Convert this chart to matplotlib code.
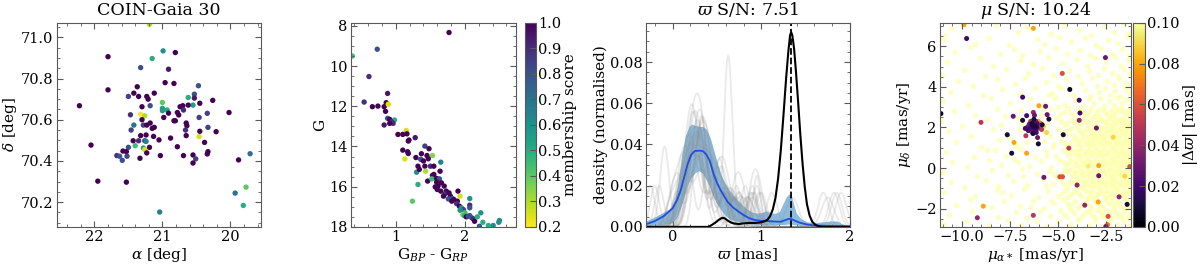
import numpy as np
import matplotlib
matplotlib.use("Agg")
import matplotlib.pyplot as plt
from matplotlib.ticker import MultipleLocator

# ---- panel 1: sky positions of members ----
ra_deg = [21.19, 21.80, 20.99, 20.81, 21.15, 21.32, 20.91, 21.80, 20.96, 20.83,
          20.47, 21.37, 21.42, 21.50, 21.35, 21.23, 21.21, 21.12, 20.53, 20.53,
          20.62, 20.26, 22.22, 21.00, 21.18, 21.30, 21.00, 20.93, 21.00, 20.55,
          20.62, 20.70, 20.74, 20.45, 20.69, 20.91, 20.78, 20.76, 20.34, 20.02,
          21.47, 21.32, 21.26, 21.30, 20.98, 20.46, 21.42, 21.28, 21.23, 21.18,
          21.15, 21.12, 20.81, 20.83, 20.65, 20.64, 20.33, 21.46, 20.66, 20.45,
          20.21, 21.32, 21.24, 21.13, 20.88, 20.65, 20.46, 21.43, 21.35, 21.05,
          21.26, 21.24, 20.38, 22.05, 21.50, 21.40, 21.28, 21.26, 21.19, 20.78,
          21.58, 21.53, 21.23, 20.33, 20.34, 21.67, 21.63, 21.52, 21.03, 20.69,
          20.55, 21.33, 21.59, 20.51, 20.55, 19.88, 19.71, 21.95, 21.53, 19.93,
          19.77, 19.81, 21.04]
dec_deg = [71.063, 70.906, 70.934, 70.926, 70.897, 70.853, 70.845, 70.745, 70.780, 70.776,
           70.765, 70.760, 70.729, 70.713, 70.713, 70.713, 70.700, 70.729, 70.724, 70.705,
           70.708, 70.694, 70.668, 70.684, 70.668, 70.663, 70.655, 70.647, 70.644, 70.671,
           70.671, 70.668, 70.663, 70.680, 70.647, 70.632, 70.635, 70.623, 70.631, 70.635,
           70.624, 70.627, 70.619, 70.600, 70.611, 70.611, 70.574, 70.574, 70.574, 70.584,
           70.558, 70.563, 70.595, 70.595, 70.584, 70.571, 70.563, 70.550, 70.550, 70.544,
           70.542, 70.523, 70.526, 70.519, 70.511, 70.523, 70.518, 70.498, 70.498, 70.502,
           70.498, 70.495, 70.490, 70.477, 70.466, 70.474, 70.463, 70.455, 70.466, 70.469,
           70.448, 70.445, 70.439, 70.445, 70.434, 70.426, 70.423, 70.423, 70.426, 70.426,
           70.429, 70.413, 70.403, 70.410, 70.390, 70.405, 70.435, 70.302, 70.297, 70.244,
           70.273, 70.184, 70.152]
score_sky = [0.30, 1.00, 0.60, 1.00, 0.50, 0.80, 0.95, 1.00, 1.00, 1.00,
             0.80, 1.00, 1.00, 0.85, 1.00, 1.00, 1.00, 1.00, 0.80, 0.95,
             0.50, 1.00, 1.00, 0.40, 0.80, 1.00, 0.55, 0.50, 0.55, 0.55,
             1.00, 1.00, 1.00, 1.00, 0.90, 1.00, 1.00, 1.00, 0.85, 1.00,
             0.90, 0.20, 0.30, 1.00, 1.00, 0.85, 0.70, 0.85, 1.00, 1.00,
             1.00, 1.00, 1.00, 1.00, 1.00, 1.00, 0.85, 0.85, 0.90, 1.00,
             1.00, 1.00, 1.00, 1.00, 1.00, 1.00, 0.25, 1.00, 0.90, 1.00,
             0.80, 0.65, 1.00, 1.00, 0.80, 0.45, 0.55, 0.25, 1.00, 1.00,
             1.00, 1.00, 1.00, 1.00, 1.00, 0.90, 0.80, 0.85, 1.00, 1.00,
             1.00, 1.00, 0.80, 0.85, 1.00, 1.00, 0.70, 1.00, 1.00, 0.70,
             0.40, 0.50, 0.65]

# ---- panel 2: colour-magnitude diagram ----
bp_rp = [1.77, 0.73, 0.37, 0.61, 0.88, 0.54, 0.66, 0.74, 0.83, 0.86,
         0.89, 0.85, 0.88, 0.91, 0.98, 0.94, 0.96, 0.91, 0.83, 1.15,
         1.03, 1.10, 1.16, 1.28, 1.19, 1.18, 1.10, 1.13, 1.18, 1.17,
         1.42, 1.48, 1.37, 1.45, 1.53, 1.47, 1.36, 1.32, 1.29, 1.40,
         1.42, 1.50, 1.55, 1.65, 1.64, 1.43, 1.30, 1.34, 1.55, 1.53,
         1.46, 1.52, 1.59, 1.63, 1.59, 1.66, 1.32, 1.61, 1.57, 1.70,
         1.60, 1.65, 1.73, 1.71, 1.77, 1.79, 1.69, 1.82, 1.90, 1.93,
         1.76, 1.84, 1.81, 1.89, 1.88, 1.24, 2.07, 2.07, 1.92, 1.95,
         1.98, 1.93, 2.00, 1.97, 1.99, 2.02, 2.05, 2.07, 2.10, 2.12,
         2.14, 2.18, 2.23, 2.26, 2.34, 2.21, 2.41, 2.49, 2.50, 2.07]
g_mag = [8.33, 9.16, 9.50, 10.52, 11.36, 11.79, 12.02, 11.99, 12.02, 11.82,
         11.90, 12.25, 12.60, 12.65, 12.68, 12.77, 12.85, 12.85, 12.93, 13.20,
         13.40, 13.40, 13.37, 13.56, 13.68, 13.73, 14.18, 14.62, 14.35, 14.26,
         13.98, 14.11, 14.36, 14.45, 14.45, 14.61, 14.64, 14.98, 14.55, 14.72,
         14.98, 14.98, 14.98, 14.78, 15.23, 15.23, 15.28, 15.14, 15.39, 15.44,
         15.72, 15.61, 15.59, 15.61, 15.77, 15.81, 15.89, 15.97, 16.01, 15.97,
         16.14, 16.22, 16.22, 16.36, 16.31, 16.47, 16.47, 16.59, 16.22, 16.47,
         16.61, 16.64, 16.72, 16.72, 16.84, 16.72, 16.59, 16.92, 16.97, 17.05,
         17.14, 17.17, 17.30, 17.39, 17.44, 17.50, 17.47, 17.44, 17.55, 17.60,
         17.72, 17.50, 17.30, 17.77, 17.93, 17.97, 17.93, 17.77, 17.68, 17.05]
score_cmd = [1.00, 0.80, 0.45, 0.90, 0.95, 0.90, 1.00, 1.00, 1.00, 1.00,
             0.25, 1.00, 0.80, 1.00, 0.50, 0.90, 0.90, 1.00, 0.95, 0.25,
             1.00, 1.00, 1.00, 0.95, 1.00, 1.00, 1.00, 0.25, 1.00, 1.00,
             0.85, 1.00, 1.00, 1.00, 0.35, 1.00, 0.80, 1.00, 1.00, 1.00,
             1.00, 0.90, 1.00, 0.65, 1.00, 0.30, 0.60, 1.00, 1.00, 1.00,
             1.00, 0.45, 1.00, 0.80, 1.00, 1.00, 0.50, 1.00, 1.00, 1.00,
             1.00, 1.00, 1.00, 0.90, 1.00, 1.00, 1.00, 0.80, 1.00, 0.25,
             0.80, 1.00, 1.00, 1.00, 0.90, 0.40, 0.60, 0.90, 1.00, 0.60,
             0.80, 0.60, 0.45, 0.35, 0.50, 1.00, 0.80, 0.80, 0.80, 0.90,
             1.00, 0.50, 0.60, 0.50, 0.50, 0.80, 0.60, 0.60, 0.60, 0.80]

# ---- panel 3: parallax densities ----
cluster_plx = [-0.30, 0.40, 0.43, 0.48, 0.52, 0.55, 0.57, 0.59, 0.62, 0.66,
               0.70, 0.75, 0.80, 0.86, 0.92, 0.98, 1.03, 1.07, 1.10, 1.13,
               1.16, 1.19, 1.22, 1.25, 1.28, 1.305, 1.325, 1.337, 1.35, 1.37,
               1.39, 1.415, 1.44, 1.465, 1.49, 1.515, 1.545, 1.575, 1.61, 1.65,
               1.70, 2.00]
cluster_dens = [0.0, 0.0, 0.0006, 0.0020, 0.0034, 0.0042, 0.0044, 0.0041, 0.0031, 0.0021,
                0.0016, 0.0014, 0.0017, 0.0019, 0.0019, 0.0021, 0.0026, 0.0035, 0.0052, 0.0085,
                0.0140, 0.0235, 0.0370, 0.0540, 0.0720, 0.0850, 0.0930, 0.0945, 0.0930, 0.0865,
                0.0760, 0.0610, 0.0450, 0.0310, 0.0195, 0.0110, 0.0055, 0.0025, 0.0010, 0.0003,
                0.0, 0.0]
cluster_plx_peak = 1.337

mean_plx = [-0.30, -0.20, -0.10, 0.00, 0.05, 0.09, 0.13, 0.17, 0.21, 0.25,
            0.30, 0.34, 0.38, 0.42, 0.46, 0.50, 0.54, 0.58, 0.62, 0.68,
            0.74, 0.80, 0.86, 0.92, 1.00, 1.08, 1.15, 1.22, 1.27, 1.31,
            1.34, 1.38, 1.43, 1.50, 1.60, 1.75, 1.90, 2.00]
mean_dens = [0.0013, 0.0028, 0.0052, 0.0090, 0.0130, 0.0175, 0.0240, 0.0305, 0.0350, 0.0368,
             0.0370, 0.0368, 0.0352, 0.0320, 0.0260, 0.0215, 0.0180, 0.0150, 0.0122, 0.0095,
             0.0075, 0.0058, 0.0043, 0.0034, 0.0029, 0.0028, 0.0026, 0.0025, 0.0033, 0.0039,
             0.0038, 0.0030, 0.0021, 0.0013, 0.0007, 0.0005, 0.0004, 0.0003]
upper_plx = [-0.30, -0.20, -0.10, -0.02, 0.03, 0.07, 0.11, 0.15, 0.19, 0.22,
             0.26, 0.30, 0.35, 0.39, 0.43, 0.47, 0.51, 0.55, 0.60, 0.66,
             0.72, 0.78, 0.84, 0.90, 0.96, 1.02, 1.06, 1.10, 1.16, 1.21,
             1.25, 1.29, 1.32, 1.345, 1.37, 1.40, 1.45, 1.52, 1.60, 1.70,
             1.80, 1.86, 1.92, 2.00]
upper_dens = [0.0026, 0.0045, 0.0068, 0.0088, 0.0130, 0.0220, 0.0350, 0.0440, 0.0485, 0.0497,
              0.0490, 0.0485, 0.0485, 0.0470, 0.0430, 0.0370, 0.0310, 0.0250, 0.0205, 0.0168,
              0.0135, 0.0110, 0.0085, 0.0070, 0.0064, 0.0068, 0.0076, 0.0068, 0.0063, 0.0072,
              0.0110, 0.0145, 0.0158, 0.0148, 0.0110, 0.0065, 0.0038, 0.0022, 0.0018, 0.0022,
              0.0027, 0.0026, 0.0012, 0.0005]
lower_plx = [-0.30, -0.10, 0.00, 0.05, 0.09, 0.13, 0.17, 0.21, 0.26, 0.30,
             0.34, 0.38, 0.42, 0.46, 0.50, 0.55, 0.60, 0.65, 0.72, 0.80,
             0.90, 1.00, 1.20, 1.33, 1.45, 1.60, 2.00]
lower_dens = [0.0004, 0.0009, 0.0017, 0.0040, 0.0085, 0.0135, 0.0195, 0.0235, 0.0260, 0.0270,
              0.0260, 0.0230, 0.0195, 0.0150, 0.0115, 0.0080, 0.0053, 0.0036, 0.0025, 0.0017,
              0.0011, 0.0009, 0.0008, 0.0012, 0.0004, 0.0, 0.0]

# parallaxes of random field samples (one grey curve each) and their kernel widths
field_samples = [
    [0.15, 0.19, 0.22, 0.24, 0.28, 0.45, 0.60, 0.90],
    [-0.10, -0.08, 0.20, 0.30, 0.33, 0.36, 0.50, 0.95],
    [0.05, 0.25, 0.30, 0.34, 0.38, 0.41, 0.70, 1.75],
    [0.10, 0.17, 0.20, 0.27, 0.35, 0.52, 0.58, 0.75],
    [0.60, 0.62, 0.63, 0.67, 0.25, 0.32, 0.45, 0.95],
    [0.00, 0.12, 0.18, 0.25, 0.29, 0.33, 0.42, 0.80],
    [0.20, 0.23, 0.26, 0.31, 0.37, 0.48, 0.55, 1.82],
    [-0.20, 0.08, 0.14, 0.20, 0.38, 0.44, 0.60, 0.90],
    [0.12, 0.28, 0.31, 0.35, 0.39, 0.46, 0.55, 0.68],
    [0.16, 0.20, 0.24, 0.27, 0.34, 0.70, 0.78, 1.70],
    [0.02, 0.08, 0.26, 0.30, 0.40, 0.43, 0.65, 0.85],
    [0.18, 0.22, 0.25, 0.30, 0.32, 0.36, 0.58, 0.98],
    [0.10, 0.15, 0.30, 0.35, 0.50, 0.55, 0.85, 0.62],
    [-0.25, 0.19, 0.23, 0.29, 0.33, 0.40, 0.47, 0.72],
    [0.05, 0.21, 0.25, 0.28, 0.44, 0.62, 0.88, 1.85],
    [0.13, 0.17, 0.27, 0.33, 0.37, 0.40, 0.52, 0.72],
    [0.22, 0.26, 0.30, 0.34, 0.45, 0.90, 0.97, 0.55],
    [0.00, 0.10, 0.14, 0.24, 0.30, 0.38, 0.66, 1.00],
    [0.17, 0.24, 0.28, 0.36, 0.42, 0.49, 0.60, 0.78],
    [0.09, 0.20, 0.26, 0.31, 0.35, 0.47, 0.75, 1.12],
    [-0.15, 0.15, 0.22, 0.29, 0.32, 0.50, 0.56, 0.82],
    [0.11, 0.19, 0.24, 0.34, 0.39, 0.43, 0.58, 1.35],
    [0.20, 0.27, 0.30, 0.33, 0.38, 0.55, 0.68, 0.92],
    [0.06, 0.16, 0.21, 0.26, 0.41, 0.60, 0.90, 1.90],
]
field_bw = [0.07, 0.05, 0.07, 0.06, 0.04, 0.07, 0.06, 0.05, 0.07, 0.06, 0.07, 0.06,
            0.07, 0.05, 0.06, 0.07, 0.06, 0.06, 0.07, 0.06, 0.05, 0.07, 0.06, 0.06]

# ---- panel 4: proper motions ----
# stars with |delta plx| < 0.1 mas
pm_ra = [-9.90, -9.76, -6.28, -2.52, -4.77, -4.38, -11.10, -9.01, -7.33, -6.84,
         -6.63, -6.84, -6.28, -5.99, -5.64, -5.56, -5.47, -5.82, -3.89, -3.85,
         -3.89, -2.99, -7.64, -7.29, -7.41, -6.67, -6.63, -6.06, -6.02, -5.59,
         -4.72, -4.43, -2.12, -2.87, -3.42, -2.87, -1.25, -1.51, -5.73, -4.90,
         -4.76, -4.00, -3.60, -2.90, -1.81, -1.39, -8.89, -9.20, -6.28, -2.38,
         -2.41, -2.50,
         -6.25, -6.18, -6.30, -6.12, -6.35, -6.05, -6.22, -6.40, -6.10, -6.28,
         -6.15, -6.45, -6.00, -6.20, -6.33, -6.08, -5.95, -6.50, -6.25, -6.55,
         -5.90, -6.38, -6.17, -6.26, -6.02, -6.60, -6.13, -5.85, -6.42, -6.70,
         -6.22, -5.75, -6.30]
pm_dec = [7.06, 6.38, 6.88, 5.44, 4.66, 3.87, 2.68, 2.25, 2.55, 3.49,
          2.58, 2.35, 2.74, 3.07, 3.04, 2.63, 2.41, 2.13, 3.34, 2.71,
          2.35, 1.97, 1.64, 1.26, 0.73, 1.59, 0.73, 1.50, 1.19, 1.75,
          1.64, 0.98, 1.52, 0.12, 0.10, -0.38, 0.07, -0.40, -0.46, -0.43,
          -0.43, -0.84, -1.83, -1.67, -1.42, -1.79, -1.88, -2.45, -2.33, -2.38,
          -2.79, -2.88,
          2.10, 2.05, 1.98, 2.15, 2.20, 1.95, 2.25, 2.05, 2.02, 1.90,
          2.30, 1.95, 2.10, 1.85, 2.12, 2.20, 2.00, 2.15, 2.40, 1.85,
          2.20, 1.80, 1.95, 2.03, 2.30, 2.00, 1.75, 1.90, 2.30, 1.95,
          2.60, 2.05, 1.70]
dplx = [0.080, 0.020, 0.080, 0.030, 0.060, 0.005, 0.005, 0.050, 0.030, 0.020,
        0.020, 0.010, 0.040, 0.080, 0.030, 0.030, 0.010, 0.010, 0.020, 0.020,
        0.040, 0.030, 0.010, 0.080, 0.010, 0.050, 0.080, 0.030, 0.010, 0.090,
        0.010, 0.050, 0.090, 0.080, 0.095, 0.030, 0.060, 0.090, 0.030, 0.060,
        0.060, 0.040, 0.040, 0.080, 0.040, 0.010, 0.080, 0.040, 0.050, 0.060,
        0.070, 0.030,
        0.020, 0.010, 0.030, 0.020, 0.010, 0.040, 0.030, 0.020, 0.015, 0.025,
        0.035, 0.020, 0.050, 0.020, 0.010, 0.030, 0.060, 0.030, 0.010, 0.020,
        0.070, 0.040, 0.020, 0.015, 0.080, 0.030, 0.020, 0.050, 0.045, 0.020,
        0.030, 0.090, 0.010]

# field stars (|delta plx| >= 0.1 mas), read row by row from top to bottom
field_stars = [
    (-10.55, 6.92), (-10.9, 6.55), (-8.25, 7.05), (-7.1, 6.72), (-6.6, 6.95), (-5.35, 6.62),
    (-4.7, 7.02), (-3.9, 6.78), (-3.25, 6.55), (-2.6, 6.98), (-2.05, 6.7), (-1.55, 7.08), (-1.35, 6.6),
    (-11.0, 6.3), (-9.3, 6.1), (-8.6, 6.4), (-7.55, 6.05), (-6.1, 6.35), (-5.7, 6.1), (-4.95, 6.45),
    (-4.3, 6.2), (-3.6, 6.4), (-3.0, 6.05), (-2.4, 6.3), (-1.85, 6.15), (-1.4, 6.45),
    (-10.35, 5.7), (-9.6, 5.95), (-8.0, 5.6), (-7.3, 5.85), (-6.85, 5.55), (-5.95, 5.75), (-5.1, 5.9),
    (-4.55, 5.6), (-3.85, 5.8), (-3.35, 5.55), (-2.75, 5.9), (-2.2, 5.6), (-1.65, 5.85), (-1.3, 5.55),
    (-10.8, 5.2), (-9.05, 5.4), (-8.4, 5.05), (-7.0, 5.3), (-6.3, 5.1), (-5.5, 5.45), (-4.8, 5.15),
    (-4.05, 5.35), (-3.5, 5.05), (-3.05, 5.4), (-2.5, 5.2), (-2.0, 5.45), (-1.7, 5.05), (-1.35, 5.3),
    (-11.05, 4.6), (-9.9, 4.85), (-8.8, 4.55), (-7.7, 4.9), (-6.55, 4.7), (-5.85, 4.95), (-5.25, 4.6),
    (-4.4, 4.85), (-3.95, 4.55), (-3.4, 4.8), (-2.9, 4.6), (-2.6, 4.95), (-2.2, 4.7), (-1.85, 4.55),
    (-1.55, 4.9), (-1.3, 4.65),
    (-10.2, 4.3), (-9.45, 4.05), (-8.15, 4.4), (-7.25, 4.15), (-6.7, 4.45), (-5.6, 4.25), (-5.0, 4.05),
    (-4.6, 4.4), (-3.75, 4.2), (-3.2, 4.45), (-2.95, 4.05), (-2.45, 4.3), (-2.1, 4.1), (-1.8, 4.4),
    (-1.45, 4.2), (-1.25, 4.0),
    (-10.65, 3.75), (-8.9, 3.6), (-7.9, 3.9), (-6.95, 3.65), (-6.2, 3.95), (-5.3, 3.7), (-4.85, 3.95),
    (-4.2, 3.6), (-3.6, 3.85), (-3.3, 3.55), (-2.85, 3.75), (-2.55, 3.95), (-2.3, 3.6), (-2.0, 3.8),
    (-1.75, 3.55), (-1.5, 3.9), (-1.3, 3.7),
    (-11.0, 3.3), (-9.7, 3.1), (-8.5, 3.45), (-7.5, 3.2), (-6.45, 3.4), (-5.75, 3.15), (-5.15, 3.45),
    (-4.65, 3.1), (-4.1, 3.35), (-3.7, 3.05), (-3.4, 3.4), (-3.1, 3.2), (-2.8, 3.45), (-2.6, 3.05),
    (-2.35, 3.3), (-2.1, 3.1), (-1.9, 3.45), (-1.65, 3.2), (-1.45, 3.4), (-1.25, 3.05),
    (-10.4, 2.8), (-9.3, 2.6), (-8.2, 2.9), (-7.75, 2.55), (-6.9, 2.85), (-5.9, 2.6), (-5.35, 2.9),
    (-4.9, 2.65), (-4.45, 2.95), (-4.15, 2.55), (-3.8, 2.8), (-3.5, 2.6), (-3.25, 2.95), (-3.0, 2.7),
    (-2.8, 2.55), (-2.65, 2.9), (-2.45, 2.65), (-2.25, 2.85), (-2.05, 2.55), (-1.85, 2.75),
    (-1.7, 2.95), (-1.5, 2.6), (-1.35, 2.85), (-1.22, 2.55),
    (-4.7, 2.75), (-4.3, 2.7), (-3.95, 2.9), (-3.65, 2.72), (-3.38, 2.8), (-3.12, 2.58), (-2.92, 2.85),
    (-2.55, 2.78), (-2.35, 2.6), (-2.15, 2.7), (-1.95, 2.9), (-1.6, 2.8), (-1.28, 2.7),
    (-11.1, 2.3), (-10.0, 2.05), (-8.7, 2.4), (-7.95, 2.1), (-7.1, 2.45), (-5.55, 2.2), (-5.1, 2.45),
    (-4.7, 2.1), (-4.3, 2.35), (-4.0, 2.05), (-3.7, 2.4), (-3.45, 2.15), (-3.2, 2.45), (-3.0, 2.2),
    (-2.85, 2.0), (-2.7, 2.35), (-2.5, 2.1), (-2.35, 2.45), (-2.2, 2.2), (-2.05, 2.0), (-1.9, 2.3),
    (-1.75, 2.1), (-1.6, 2.4), (-1.45, 2.15), (-1.3, 2.35), (-1.22, 2.05),
    (-4.85, 2.3), (-4.5, 2.2), (-4.15, 2.25), (-3.85, 2.15), (-3.58, 2.3), (-3.32, 2.3), (-3.1, 2.05),
    (-2.92, 2.4), (-2.6, 2.25), (-2.42, 2.3), (-2.28, 2.08), (-2.12, 2.35), (-1.98, 2.2), (-1.82, 2.42),
    (-1.68, 2.25), (-1.52, 2.3), (-1.38, 2.05), (-1.25, 2.2),
    (-10.75, 1.8), (-9.55, 1.6), (-8.4, 1.9), (-7.6, 1.55), (-6.95, 1.85), (-5.4, 1.6), (-5.0, 1.9),
    (-4.6, 1.7), (-4.3, 1.95), (-4.05, 1.55), (-3.85, 1.8), (-3.65, 1.6), (-3.5, 1.95), (-3.35, 1.7),
    (-3.2, 1.5), (-3.05, 1.85), (-2.9, 1.65), (-2.75, 1.95), (-2.6, 1.55), (-2.5, 1.8), (-2.35, 1.6),
    (-2.2, 1.9), (-2.1, 1.7), (-1.95, 1.5), (-1.85, 1.85), (-1.7, 1.65), (-1.6, 1.95), (-1.45, 1.55),
    (-1.35, 1.8), (-1.22, 1.65),
    (-4.8, 1.75), (-4.45, 1.85), (-4.2, 1.65), (-3.95, 1.9), (-3.75, 1.7), (-3.58, 1.8), (-3.42, 1.55),
    (-3.28, 1.88), (-3.12, 1.68), (-2.98, 1.52), (-2.82, 1.78), (-2.68, 1.62), (-2.55, 1.92),
    (-2.42, 1.72), (-2.28, 1.82), (-2.15, 1.55), (-2.02, 1.78), (-1.9, 1.62), (-1.78, 1.9),
    (-1.65, 1.78), (-1.52, 1.7), (-1.4, 1.92), (-1.28, 1.55),
    (-10.3, 1.3), (-9.0, 1.05), (-8.05, 1.4), (-7.2, 1.1), (-5.7, 1.35), (-5.25, 1.05), (-4.85, 1.4),
    (-4.5, 1.15),
    (-4.2, 1.38), (-3.95, 1.31), (-3.72, 1.44), (-3.5, 1.35), (-3.3, 1.29), (-3.1, 1.41), (-2.9, 1.33),
    (-2.7, 1.47), (-2.52, 1.36), (-2.33, 1.28), (-2.15, 1.42), (-1.97, 1.34), (-1.8, 1.45), (-1.62, 1.3),
    (-1.45, 1.39), (-1.28, 1.32),
    (-4.7, 1.25), (-4.35, 1.2), (-3.9, 1.22), (-3.5, 1.24), (-3.1, 1.21), (-2.72, 1.26), (-2.35, 1.22),
    (-1.95, 1.25), (-1.58, 1.21), (-1.25, 1.26),
    (-4.05, 1.12), (-3.82, 1.05), (-3.6, 1.18), (-3.4, 1.09), (-3.2, 1.15), (-3.0, 1.02), (-2.8, 1.13),
    (-2.62, 1.07), (-2.43, 1.19), (-2.25, 1.04), (-2.06, 1.1), (-1.88, 1.16), (-1.7, 1.03), (-1.53, 1.14),
    (-1.36, 1.08), (-1.22, 1.17),
    (-10.85, 0.8), (-9.4, 0.55), (-8.3, 0.9), (-7.7, 0.6), (-6.9, 0.95), (-6.2, 0.55), (-5.6, 0.85),
    (-5.1, 0.6), (-4.75, 0.9), (-4.45, 0.65),
    (-4.25, 0.88), (-4.0, 0.84), (-3.78, 0.93), (-3.56, 0.86), (-3.36, 0.9), (-3.15, 0.82), (-2.95, 0.91),
    (-2.76, 0.85), (-2.57, 0.94), (-2.38, 0.83), (-2.2, 0.89), (-2.02, 0.92), (-1.84, 0.84), (-1.66, 0.9),
    (-1.49, 0.86), (-1.31, 0.93),
    (-4.6, 0.78), (-4.3, 0.72), (-3.95, 0.75), (-3.57, 0.73), (-3.2, 0.76), (-2.82, 0.72), (-2.45, 0.75),
    (-2.08, 0.77), (-1.7, 0.73), (-1.32, 0.76),
    (-4.12, 0.62), (-3.88, 0.58), (-3.67, 0.66), (-3.46, 0.6), (-3.25, 0.64), (-3.05, 0.57), (-2.85, 0.63),
    (-2.66, 0.59), (-2.47, 0.67), (-2.29, 0.61), (-2.1, 0.56), (-1.93, 0.65), (-1.75, 0.6), (-1.57, 0.63),
    (-1.4, 0.58), (-1.24, 0.64),
    (-10.5, 0.3), (-9.75, 0.05), (-8.6, 0.4), (-7.95, 0.15), (-7.3, 0.45), (-6.5, 0.1), (-5.9, 0.35),
    (-5.35, 0.05), (-4.95, 0.4), (-4.6, 0.15),
    (-4.35, 0.38), (-4.1, 0.34), (-3.87, 0.42), (-3.65, 0.36), (-3.44, 0.4), (-3.23, 0.33), (-3.02, 0.41),
    (-2.82, 0.37), (-2.63, 0.43), (-2.44, 0.35), (-2.25, 0.39), (-2.07, 0.32), (-1.89, 0.4), (-1.71, 0.36),
    (-1.53, 0.42), (-1.35, 0.34), (-1.22, 0.4),
    (-4.75, 0.28), (-4.45, 0.22), (-4.05, 0.25), (-3.68, 0.23), (-3.3, 0.26), (-2.93, 0.22), (-2.55, 0.25),
    (-2.18, 0.27), (-1.8, 0.23), (-1.42, 0.26),
    (-4.2, 0.12), (-3.97, 0.08), (-3.75, 0.15), (-3.54, 0.1), (-3.33, 0.14), (-3.12, 0.07), (-2.92, 0.13),
    (-2.72, 0.09), (-2.53, 0.16), (-2.34, 0.11), (-2.16, 0.06), (-1.98, 0.13), (-1.8, 0.1), (-1.62, 0.15),
    (-1.44, 0.08), (-1.28, 0.12),
    (-11.0, -0.2), (-9.2, -0.4), (-8.45, -0.1), (-7.6, -0.35), (-6.85, -0.05), (-6.1, -0.3),
    (-5.45, -0.15), (-5.05, -0.45), (-4.7, -0.1),
    (-4.4, -0.12), (-4.15, -0.16), (-3.92, -0.09), (-3.7, -0.14), (-3.48, -0.1), (-3.27, -0.17),
    (-3.06, -0.11), (-2.86, -0.15), (-2.66, -0.08), (-2.47, -0.13), (-2.28, -0.1), (-2.1, -0.16),
    (-1.92, -0.12), (-1.74, -0.09), (-1.56, -0.14), (-1.38, -0.11), (-1.23, -0.15),
    (-4.85, -0.28), (-4.55, -0.22), (-4.12, -0.25), (-3.75, -0.27), (-3.38, -0.24), (-3.0, -0.26),
    (-2.62, -0.23), (-2.25, -0.27), (-1.88, -0.24), (-1.5, -0.26),
    (-4.25, -0.38), (-4.02, -0.42), (-3.8, -0.35), (-3.58, -0.4), (-3.37, -0.36), (-3.16, -0.43),
    (-2.96, -0.37), (-2.76, -0.41), (-2.57, -0.34), (-2.38, -0.39), (-2.19, -0.42), (-2.01, -0.36),
    (-1.83, -0.4), (-1.65, -0.35), (-1.47, -0.41), (-1.3, -0.37),
    (-10.6, -0.7), (-9.9, -0.95), (-8.75, -0.6), (-8.1, -0.9), (-7.35, -0.65), (-6.6, -0.85),
    (-5.8, -0.55), (-5.25, -0.8), (-4.85, -0.6), (-4.55, -0.95),
    (-4.3, -0.62), (-4.05, -0.66), (-3.83, -0.59), (-3.61, -0.64), (-3.4, -0.6), (-3.19, -0.67),
    (-2.98, -0.61), (-2.78, -0.65), (-2.58, -0.58), (-2.39, -0.63), (-2.2, -0.6), (-2.02, -0.66),
    (-1.84, -0.62), (-1.66, -0.58), (-1.48, -0.64), (-1.31, -0.61),
    (-4.7, -0.78), (-4.38, -0.72), (-4.0, -0.76), (-3.62, -0.74), (-3.25, -0.77), (-2.88, -0.73),
    (-2.5, -0.76), (-2.12, -0.74), (-1.75, -0.77), (-1.38, -0.73),
    (-4.0, -0.88), (-3.76, -0.92), (-3.53, -0.85), (-3.3, -0.9), (-3.08, -0.87), (-2.87, -0.93),
    (-2.67, -0.86), (-2.47, -0.91), (-2.28, -0.84), (-2.09, -0.89), (-1.9, -0.92), (-1.72, -0.86),
    (-1.54, -0.9), (-1.37, -0.85), (-1.23, -0.91),
    (-10.95, -1.2), (-9.3, -1.4), (-8.2, -1.1), (-7.45, -1.35), (-6.75, -1.05), (-6.05, -1.45),
    (-5.5, -1.15), (-5.0, -1.4), (-4.6, -1.1),
    (-4.3, -1.3), (-4.05, -1.05), (-3.8, -1.4), (-3.55, -1.15), (-3.35, -1.35), (-3.15, -1.05),
    (-2.95, -1.3), (-2.75, -1.1), (-2.55, -1.45), (-2.38, -1.2), (-2.2, -1.0), (-2.05, -1.35),
    (-1.88, -1.15), (-1.7, -1.4), (-1.55, -1.05), (-1.4, -1.3), (-1.25, -1.1),
    (-4.8, -1.25), (-4.45, -1.45), (-4.18, -1.18), (-3.92, -1.28), (-3.68, -1.05), (-3.45, -1.48),
    (-3.25, -1.2), (-3.05, -1.42), (-2.85, -1.18), (-2.65, -1.3), (-2.47, -1.08), (-2.28, -1.38),
    (-2.12, -1.22), (-1.95, -1.05), (-1.78, -1.28), (-1.62, -1.22), (-1.48, -1.45), (-1.32, -1.2),
    (-10.3, -1.8), (-9.6, -1.55), (-8.5, -1.9), (-7.8, -1.6), (-7.0, -1.85), (-6.3, -1.6), (-5.7, -1.95),
    (-5.2, -1.7), (-4.75, -1.55), (-4.4, -1.9), (-4.1, -1.6), (-3.8, -1.8), (-3.5, -1.55), (-3.25, -1.95),
    (-3.0, -1.65), (-2.75, -1.85), (-2.55, -1.55), (-2.3, -1.75), (-2.1, -1.95), (-1.9, -1.6),
    (-1.7, -1.85), (-1.5, -1.55), (-1.3, -1.75),
    (-4.55, -1.7), (-4.25, -1.75), (-3.95, -1.95), (-3.65, -1.7), (-3.38, -1.8), (-3.12, -1.55),
    (-2.88, -1.78), (-2.62, -1.95), (-2.42, -1.65), (-2.2, -1.58), (-2.0, -1.8), (-1.8, -1.72),
    (-1.6, -1.98), (-1.4, -1.65), (-1.25, -1.9),
    (-10.7, -2.3), (-9.5, -2.1), (-8.1, -2.4), (-7.2, -2.15), (-6.6, -2.45), (-5.95, -2.1), (-5.4, -2.35),
    (-4.9, -2.05), (-4.5, -2.4), (-4.15, -2.2), (-3.85, -2.45), (-3.55, -2.1), (-3.2, -2.35),
    (-2.95, -2.05), (-2.7, -2.3), (-2.45, -2.1), (-2.2, -2.45), (-1.95, -2.2), (-1.7, -2.4),
    (-1.45, -2.05), (-1.28, -2.3),
    (-4.7, -2.25), (-4.3, -2.05), (-3.7, -2.3), (-3.35, -2.15), (-3.05, -2.4), (-2.82, -2.18),
    (-2.58, -2.4), (-2.32, -2.25), (-2.05, -2.05), (-1.85, -2.35), (-1.58, -2.25), (-1.35, -2.45),
    (-11.0, -2.75), (-9.8, -2.6), (-8.6, -2.8), (-7.6, -2.55), (-6.9, -2.8), (-6.1, -2.6), (-5.55, -2.85),
    (-5.0, -2.6), (-4.35, -2.75), (-3.95, -2.55), (-3.4, -2.8), (-3.05, -2.6), (-2.6, -2.85),
    (-2.35, -2.6), (-1.9, -2.75), (-1.55, -2.6), (-1.3, -2.85),
    (-5.7, 1.8), (-5.2, 1.2), (-5.55, 0.6), (-5.2, -0.3), (-5.6, -0.9), (-5.35, -1.6), (-5.8, 2.9),
    (-5.0, 3.0), (-5.45, 3.6), (-6.6, 1.3), (-6.8, -0.4), (-7.1, 0.3), (-6.4, -1.9), (-7.9, -1.2),
    (-8.7, 0.9), (-6.9, 2.2),
]

plx_sn = 7.51
pm_sn = 10.24

plt.rcParams.update({
    "font.family": "serif",
    "font.serif": ["DejaVu Serif"],
    "mathtext.fontset": "dejavuserif",
    "font.size": 11,
    "axes.titlesize": 12.5,
    "axes.labelsize": 11,
    "axes.labelpad": 1.5,
    "xtick.labelsize": 10.5,
    "ytick.labelsize": 10.5,
    "xtick.major.pad": 2.5,
    "ytick.major.pad": 2.5,
    "xtick.direction": "in",
    "ytick.direction": "in",
    "xtick.top": True,
    "ytick.right": True,
    "xtick.minor.visible": True,
    "ytick.minor.visible": True,
    "xtick.major.size": 4,
    "ytick.major.size": 4,
    "xtick.minor.size": 2,
    "ytick.minor.size": 2,
    "axes.edgecolor": "0.35",
    "xtick.color": "0.35",
    "ytick.color": "0.35",
    "xtick.labelcolor": "black",
    "ytick.labelcolor": "black",
})


def kde_curve(samples, bw, grid, step=0.02):
    samples = np.asarray(samples)
    z = (grid[:, None] - samples[None, :]) / bw
    dens = np.exp(-0.5 * z ** 2).sum(axis=1) / (len(samples) * bw * np.sqrt(2 * np.pi))
    return dens * step


fig = plt.figure(figsize=(12, 2.66), dpi=100)
bottom, height = 0.147, 0.767

# sky
ax1 = fig.add_axes([0.0475, bottom, 0.170, height])
ax1.scatter(ra_deg, dec_deg, c=score_sky, cmap="viridis_r", vmin=0.2, vmax=1.0, s=15, linewidths=0)
ax1.set_xlim(22.55, 19.55)
ax1.set_ylim(70.08, 71.07)
ax1.xaxis.set_major_locator(MultipleLocator(1))
ax1.yaxis.set_major_locator(MultipleLocator(0.2))
ax1.set_xlabel(r"$\alpha$ [deg]")
ax1.set_ylabel(r"$\delta$ [deg]")
ax1.set_title("COIN-Gaia 30")

# CMD
ax2 = fig.add_axes([0.2925, bottom, 0.1375, height])
sc2 = ax2.scatter(bp_rp, g_mag, c=score_cmd, cmap="viridis_r", vmin=0.2, vmax=1.0, s=15, linewidths=0)
ax2.set_xlim(0.35, 2.74)
ax2.set_ylim(18, 7.85)
ax2.xaxis.set_major_locator(MultipleLocator(1))
ax2.yaxis.set_major_locator(MultipleLocator(2))
ax2.set_xlabel(r"G$_{BP}$ - G$_{RP}$")
ax2.set_ylabel("G")
cax2 = fig.add_axes([0.4375, bottom, 0.0092, height])
cb2 = fig.colorbar(sc2, cax=cax2)
cb2.set_ticks(np.arange(0.2, 1.01, 0.1))
cb2.ax.minorticks_off()
cb2.ax.tick_params(pad=1.5)
cb2.set_label("membership score", labelpad=1)
cb2.outline.set_edgecolor("0.35")

# parallax
ax3 = fig.add_axes([0.5383, bottom, 0.170, height])
grid = np.linspace(-0.35, 2.05, 400)
for samples, bw in zip(field_samples, field_bw):
    ax3.plot(grid, kde_curve(samples, bw, grid), color="0.55", alpha=0.18, lw=1.3)
band_x = np.r_[upper_plx, lower_plx[::-1]]
band_y = np.r_[upper_dens, lower_dens[::-1]]
ax3.fill(band_x, band_y, color="#4d97cc", alpha=0.65, lw=0)
ax3.plot(mean_plx, mean_dens, color="#1f4fe0", lw=1.3)
ax3.plot(cluster_plx, cluster_dens, color="black", lw=1.5)
ax3.axvline(cluster_plx_peak, color="black", ls="--", lw=1.3)
ax3.set_xlim(-0.3, 2.0)
ax3.set_ylim(0, 0.099)
ax3.xaxis.set_major_locator(MultipleLocator(1))
ax3.yaxis.set_major_locator(MultipleLocator(0.02))
ax3.set_xlabel(r"$\varpi$ [mas]")
ax3.set_ylabel("density (normalised)")
ax3.set_title(r"$\varpi$ S/N: %.2f" % plx_sn)

# proper motions
ax4 = fig.add_axes([0.7833, bottom, 0.159, height])
field_pmra = [p[0] for p in field_stars]
field_pmdec = [p[1] for p in field_stars]
ax4.scatter(field_pmra, field_pmdec, color=plt.cm.inferno(1.0), alpha=0.65, s=16, linewidths=0)
order = np.argsort(dplx)[::-1]
sc4 = ax4.scatter(np.array(pm_ra)[order], np.array(pm_dec)[order], c=np.array(dplx)[order],
                  cmap="inferno", vmin=0, vmax=0.1, s=13, linewidths=0)
ax4.set_xlim(-11.15, -1.2)
ax4.set_ylim(-2.9, 7.15)
ax4.xaxis.set_major_locator(MultipleLocator(2.5))
ax4.yaxis.set_major_locator(MultipleLocator(2))
ax4.set_xlabel(r"$\mu_{\alpha*}$ [mas/yr]")
ax4.set_ylabel(r"$\mu_\delta$ [mas/yr]")
ax4.set_title(r"$\mu$ S/N: %.2f" % pm_sn)
cax4 = fig.add_axes([0.944, bottom, 0.0100, height])
cb4 = fig.colorbar(sc4, cax=cax4)
cb4.set_ticks(np.arange(0, 0.101, 0.02))
cb4.ax.minorticks_off()
cb4.ax.tick_params(pad=1.5)
cb4.set_label(r"$|\Delta\varpi|$ [mas]", labelpad=1)
cb4.outline.set_edgecolor("0.35")

fig.savefig("out.png", dpi=100)
